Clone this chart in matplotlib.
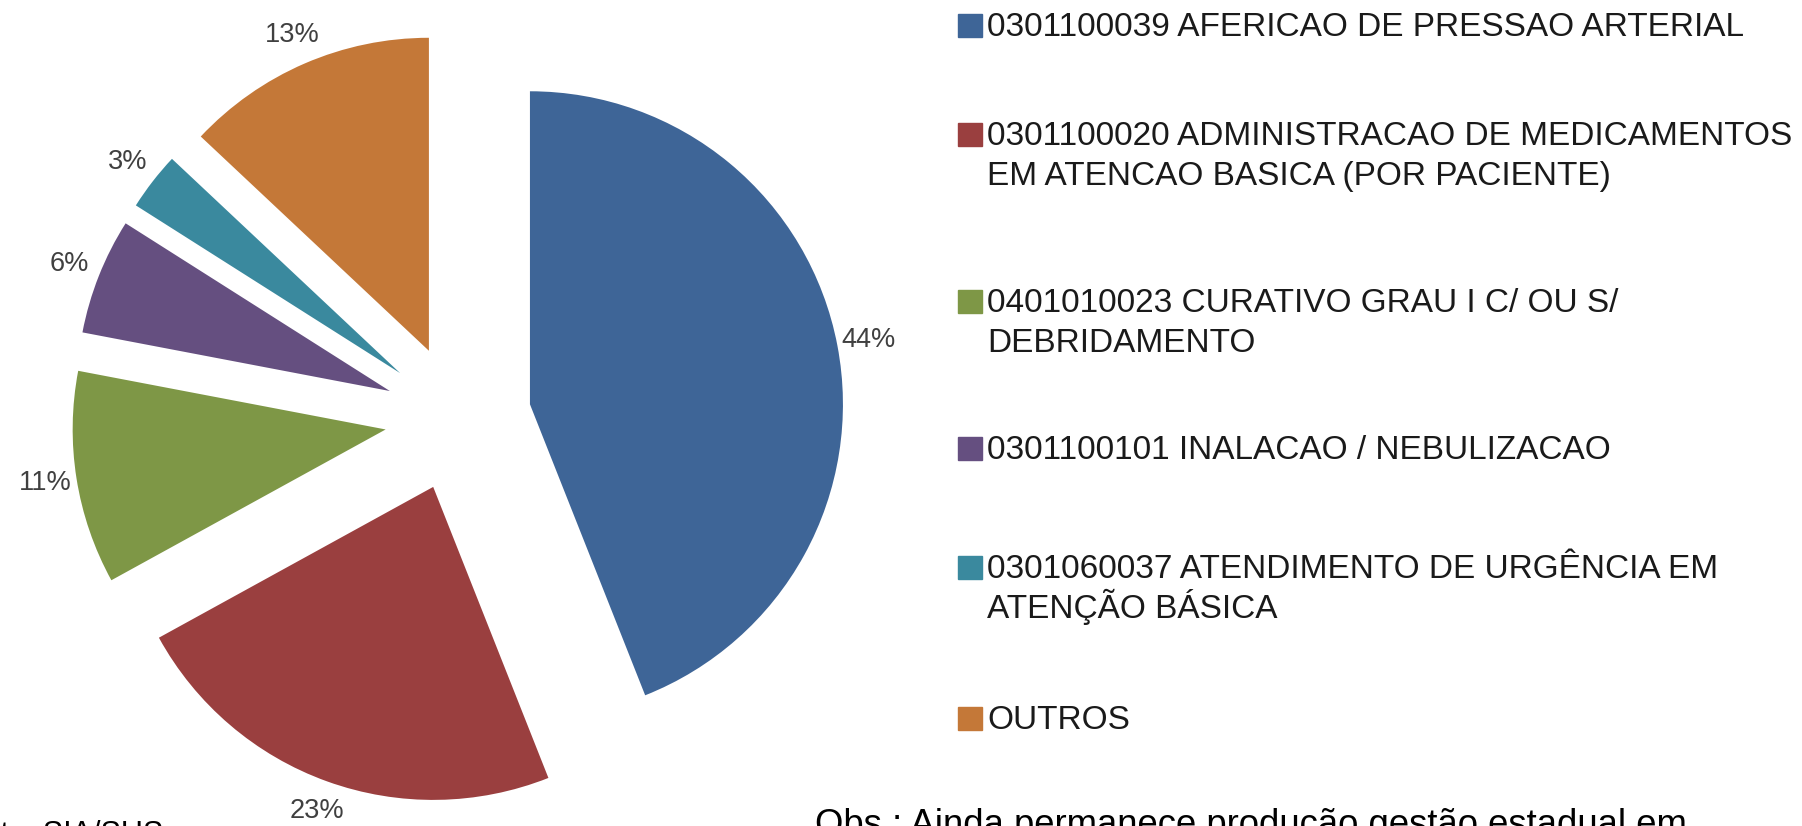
import matplotlib
matplotlib.use("Agg")
import matplotlib.pyplot as plt
from matplotlib.patches import Rectangle

plt.rcParams['font.family'] = ['Liberation Sans', 'DejaVu Sans']

# data
procedimentos = [
    "0301100039 AFERICAO DE PRESSAO ARTERIAL",
    "0301100020 ADMINISTRACAO DE MEDICAMENTOS\nEM ATENCAO BASICA (POR PACIENTE)",
    "0401010023 CURATIVO GRAU I C/ OU S/\nDEBRIDAMENTO",
    "0301100101 INALACAO / NEBULIZACAO",
    "0301060037 ATENDIMENTO DE URGÊNCIA EM\nATENÇÃO BÁSICA",
    "OUTROS",
]
percentuais = [44, 23, 11, 6, 3, 13]
cores = ["#3e6597", "#9a3f3f", "#7e9746", "#654f80", "#3a899e", "#c47838"]

W, H = 1802, 826
fig = plt.figure(figsize=(W / 100, H / 100), dpi=100)
ax = fig.add_axes([0, 0, 1, 1])

wedges, txts, pcts = ax.pie(
    percentuais, colors=cores, startangle=90, counterclock=False,
    explode=[0.234] * len(percentuais), autopct='%1.0f%%', pctdistance=1.1,
    textprops=dict(fontsize=19.5, color='#404040'))

# pie centre at (458, 418) px, radius 313 px
R, cx, cy = 313.0, 458.0, 418.0
ax.set_xlim(-cx / R, (W - cx) / R)
ax.set_ylim(-(H - cy) / R, cy / R)
ax.set_aspect('auto')
ax.axis('off')

# legend drawn by hand (square next to first line of each label)
baselines = [36, 145, 312, 459, 578, 729]
for lab, c, yb in zip(procedimentos, cores, baselines):
    fig.patches.append(Rectangle((958 / W, 1 - (yb + 1) / H), 24 / W, 23 / H,
                                 transform=fig.transFigure, color=c))
    for i, linha in enumerate(lab.split("\n")):
        fig.text(987 / W, 1 - (yb + 40 * i) / H, linha, fontsize=24,
                 color='#1a1a1a', va='baseline', ha='left')

# footnotes (cut off by the bottom edge in the original)
fig.text(163 / W, 1 - 843 / H, "Fonte: SIA/SUS", fontsize=22, color='black',
         ha='right', va='baseline')
fig.text(815 / W, 1 - 835 / H, "Obs : Ainda permanece produção gestão estadual em",
         fontsize=26.3, color='black', ha='left', va='baseline')

fig.savefig("out.png", dpi=100)
